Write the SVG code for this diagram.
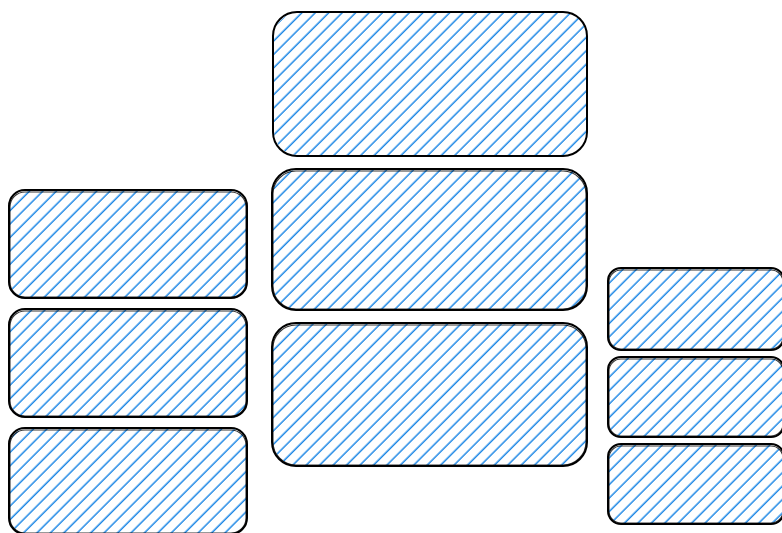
<svg xmlns="http://www.w3.org/2000/svg" width="782" height="533" viewBox="0 0 782 533">
<defs>
<pattern id="h" patternUnits="userSpaceOnUse" width="9.5" height="9.5" patternTransform="rotate(45)">
<line x1="4" y1="-1" x2="4" y2="11" stroke="#1f88e5" stroke-width="1.5"/>
</pattern>
<style>
.f{fill:url(#h);stroke:none}
.s{fill:none;stroke:#000;stroke-width:2}
.t{fill:none;stroke:#000;stroke-width:1.1;opacity:.8}
</style>
</defs>
<g id="n1"><rect class="f" x="10" y="191" width="237" height="106" rx="16"/><rect class="s" x="9" y="190" width="238" height="108" rx="16"/><rect class="t" x="10" y="192" width="236" height="105" rx="15"/></g>
<g id="n2"><rect class="f" x="10" y="310" width="237" height="106" rx="16"/><rect class="s" x="9" y="309" width="238" height="108" rx="16"/><rect class="t" x="10" y="311" width="236" height="105" rx="15"/></g>
<g id="n3"><rect class="f" x="10" y="429" width="237" height="104" rx="16"/><rect class="s" x="9" y="428" width="238" height="106" rx="16"/><rect class="t" x="10" y="430" width="236" height="103" rx="15"/></g>
<g id="n4"><rect class="f" x="274" y="13" width="313" height="142" rx="24"/><rect class="s" x="273" y="12" width="314" height="144" rx="24"/></g>
<g id="n5"><rect class="f" x="273" y="170" width="314" height="139" rx="24"/><rect class="s" x="272" y="169" width="315" height="141" rx="24"/><rect class="t" x="273" y="171" width="313" height="138" rx="23"/></g>
<g id="n6"><rect class="f" x="273" y="324" width="314" height="141" rx="24"/><rect class="s" x="272" y="323" width="315" height="143" rx="24"/><rect class="t" x="273" y="325" width="313" height="140" rx="23"/></g>
<g id="n7"><rect class="f" x="609" y="269" width="174" height="80" rx="13"/><rect class="s" x="608" y="268" width="176" height="82" rx="13"/><rect class="t" x="609" y="270" width="174" height="79" rx="12"/></g>
<g id="n8"><rect class="f" x="609" y="358" width="174" height="78" rx="13"/><rect class="s" x="608" y="357" width="176" height="80" rx="13"/><rect class="t" x="609" y="359" width="174" height="77" rx="12"/></g>
<g id="n9"><rect class="f" x="609" y="445" width="174" height="78" rx="13"/><rect class="s" x="608" y="444" width="176" height="80" rx="13"/><rect class="t" x="609" y="446" width="174" height="77" rx="12"/></g>
<g id="connectors"/>
</svg>
